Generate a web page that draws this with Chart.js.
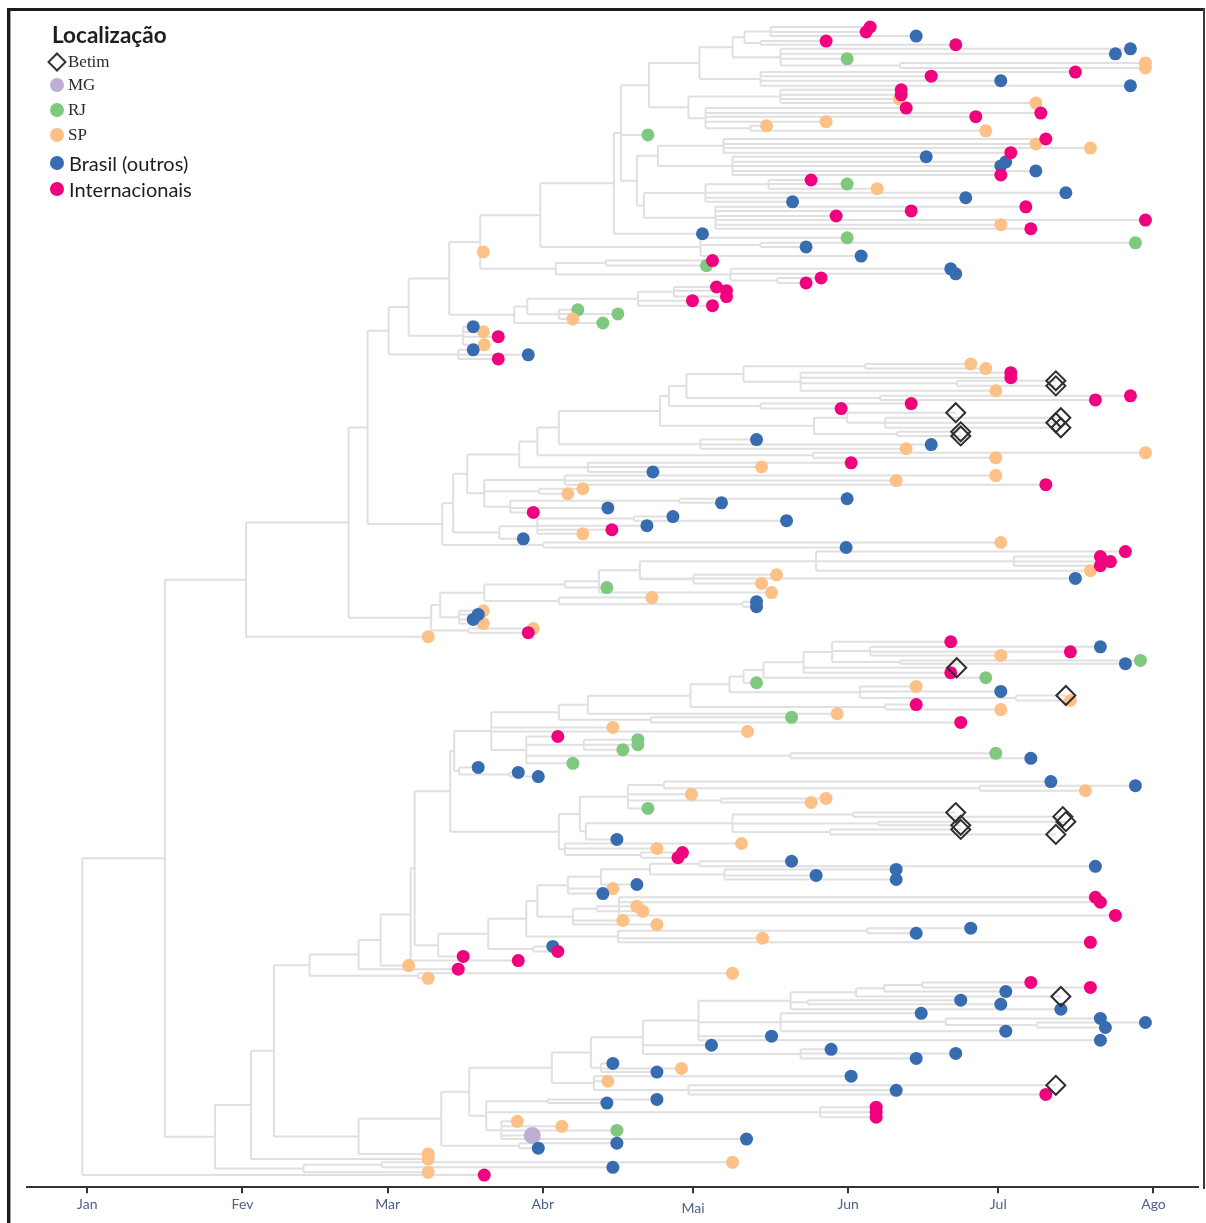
<!DOCTYPE html>
<html><head><meta charset="utf-8">
<script src="https://cdn.jsdelivr.net/npm/chart.js@4/dist/chart.umd.min.js"></script>
<style>
html,body{margin:0;padding:0;background:#fff;}
#wrap{position:relative;width:1206px;height:1223px;overflow:hidden;}
canvas{position:absolute;left:0;top:0;}
.lg{position:absolute;white-space:nowrap;color:#1e1e1e;}
.ttl{font-family:Lato,"Open Sans",sans-serif;font-weight:700;font-size:22.5px;line-height:24px;}
.srf{font-family:"Liberation Serif","DejaVu Serif",serif;font-size:17px;line-height:20px;color:#2a2a2a;}
.sns{font-family:Lato,"Open Sans",sans-serif;font-size:20px;line-height:22px;}
.mk{position:absolute;width:14px;height:14px;border-radius:50%;}
.dia{position:absolute;width:10px;height:10px;border:2px solid #333;transform:rotate(45deg);background:transparent;}
</style></head><body>
<div id="wrap">
<canvas id="c" width="1206" height="1223"></canvas>
<div id="legend"></div>
</div>
<script>
// ---------------- DATA ----------------
// x = day of year 2020 (0 = 1 Jan), y = leaf row (0 = top leaf)
const monthDay   = [0, 31, 60, 91, 121, 152, 182, 213];
const monthLabel = ['Jan', 'Fev', 'Mar', 'Abr', 'Mai', 'Jun', 'Jul', 'Ago'];
const locCodes   = ['Betim', 'MG', 'RJ', 'SP', 'BR', 'INT'];
const locNames   = ['Betim', 'MG', 'RJ', 'SP', 'Brasil (outros)', 'Internacionais'];

// internal nodes: [name, parent, day]
const backboneNodes = [
  ['R', null, -1.0], ['A','R',15.5], ['B','A',31.7], ['C','A',25.5], ['D','B',52.2],
  ['E','D',56.0], ['F','D',68.7], ['G','E',60.2], ['H2','E',70.9],
  ['C1','C',32.7], ['C2','C',43.2], ['C2a','C2',58.8], ['N272','C1',37.3],
  ['N308','N272',44.4], ['N357b','N272',54.2], ['N357a','N308',54.2], ['N417','N308',66.1],
  ['N379','N357a',58.6], ['N409','N379',64.6], ['N413','N409',65.4], ['N437','N413',70.1],
  ['N440','N357b',70.7]
];
const topNodes = [
  ['G1','G',64.2], ['G2','G',74.1], ['T1','G1',72.3], ['K','G1',75.1], ['H','T1',78.5], ['W','T1',85.3],
  ['U','H',90.5], ['V','H',93.6], ['Ua','U',105.2], ['Ue','U',122.5], ['Ub','Ua',106.6],
  ['Uc','Ub',112.2], ['Ud','Ub',109.8], ['Uc1','Uc',122.3], ['Uc9','Uc',120.1],
  ['Uc2','Uc1',128.9], ['Uc8','Uc1',134.5], ['Uc3','Uc2',131.3], ['Uc6','Uc2',138.5],
  ['Uc4','Uc3',136.5], ['Uc5','Uc3',134.5], ['Uc7','Uc6',162.4], ['Uc10','Uc9',138.5],
  ['Uc11','Uc9',123.5], ['Uc12','Uc11',132.5], ['Ud1','Ud',114.0], ['Ud2','Ud1',127.1],
  ['Ud3','Ud1',128.9], ['Ud4','Ud',111.2], ['Ud5','Ud4',123.5], ['Ud6','Ud5',136.1],
  ['Ud7','Ud4',125.5], ['Ue1','Ue',134.5], ['V1','V',103.6], ['V2','V',128.5],
  ['V2a','V2',137.9], ['W1','W',87.9], ['W2','W1',110.0], ['W2a','W2',117.2], ['W3','W1',94.2]
];
const midNodes = [
  ['M','H2',73.1], ['N','H2',91.1], ['M1','M',75.9], ['M2','M',82.3], ['M3','M1',86.3],
  ['M4','M1',79.3], ['Bt','M3',89.9], ['M5','M3',100.0], ['Bt1','Bt',94.2], ['Bt9','Bt',145.0],
  ['Bt2','Bt1',114.4], ['Bt10','Bt1',122.5], ['Bt3','Bt2',116.2], ['Bt8','Bt2',145.2],
  ['Bt4','Bt3',119.7], ['Bt7','Bt3',134.5], ['Bt5','Bt4',131.1], ['Bt6','Bt4',158.4],
  ['Bt5a','Bt5',155.4], ['Bt5b','Bt5',142.5], ['Bt5c','Bt5b',173.7], ['Bt8a','Bt8',151.8],
  ['Bt8b','Bt8a',159.4], ['Bt8c','Bt8',161.8], ['M7','M4',95.4], ['M6','M4',90.3],
  ['M8','M4',84.5], ['M8a','M8',118.3], ['M9','M2',89.9], ['M10','M9',109.2],
  ['F1','F',70.5], ['F2','F',76.1], ['F3','F1',79.3], ['F4','F1',74.3], ['F5','F3',95.4],
  ['F6','F3',94.2], ['F6a','F6',130.9], ['F7','F5',102.2], ['F8','F7',110.4],
  ['F9','F8',145.6], ['F9a','F9',185.1], ['F10','F8',121.1]
];
const lowerNodes = [
  ['L','N413',72.5], ['L1','L',73.3], ['L2','L',94.2], ['L3','L1',80.7], ['L4','L1',74.3],
  ['L4a','L4',84.3], ['L5','L3',94.2], ['L17','L3',87.7], ['L6','L5',100.0], ['L16','L5',112.6],
  ['L7','L6',120.5], ['L8','L7',128.3], ['L15','L7',159.4], ['L9','L8',131.1], ['L13','L8',154.4],
  ['L14','L13',185.5], ['L10','L9',135.1], ['L11','L10',143.1], ['L12','L11',148.8],
  ['L12a','L12',156.4], ['L12b','L12',162.4], ['L18a','L17',99.2], ['L19','L17',140.5],
  ['L20','L2',98.4], ['L29','L2',95.4], ['L29a','L29',110.6], ['L21','L20',108.0],
  ['L24','L20',99.6], ['L22','L21',115.2], ['L22a','L22',178.3], ['L23','L21',126.5],
  ['L25','L24',128.9], ['L26','L25',153.0], ['L27','L25',158.0], ['L28','L25',148.4],
  ['Q','N437',80.1], ['Q1','Q',87.7], ['Q2','Q',89.1], ['Q3','Q1',89.9], ['Q4','Q1',106.0],
  ['Q5','Q3',96.0], ['Q6','Q3',97.0], ['Q7','Q5',102.6], ['Q8','Q7',112.4], ['Q9','Q8',122.3],
  ['Q10','Q8',127.3], ['Q11','Q6',101.8], ['Q12','Q11',106.2], ['N867','Q4',155.8]
];
const bottomNodes = [
  ['P1','N440',76.3], ['P22','N440',86.3], ['P3','P1',92.8], ['P4','P1',79.7], ['P5','P3',100.6],
  ['P6','P3',101.2], ['P7','P5',111.0], ['P8','P5',102.6], ['P9','P7',122.1], ['P10','P7',142.5],
  ['P11','P9',140.5], ['P16','P9',138.5], ['P12','P11',153.6], ['P13','P12',159.2],
  ['P13a','P13',166.8], ['P14','P11',143.9], ['P17','P16',171.5], ['P17a','P17',189.7],
  ['P18','P6',120.1], ['P19','P4',92.0], ['P20','P4',146.4], ['P21','P4',82.7]
];

// tips: [parent, day, row, location]
const topTips = [
  ['Uc4',156.4,0.0,'INT'], ['Uc4',155.6,1.1,'INT'], ['Uc4',165.6,2.0,'BR'],
  ['Uc5',147.6,3.1,'INT'], ['Uc5',173.5,3.9,'INT'],
  ['Uc6',208.4,4.8,'BR'], ['Uc6',205.4,5.9,'BR'], ['Uc6',151.8,7.0,'RJ'],
  ['Uc7',211.4,7.9,'SP'], ['Uc7',211.4,9.0,'SP'],
  ['Uc8',197.4,9.9,'INT'], ['Uc8',168.6,10.8,'INT'], ['Uc8',182.5,11.8,'BR'], ['Uc8',208.4,12.9,'BR'],
  ['Uc10',162.6,13.8,'INT'], ['Uc10',162.6,14.9,'INT'], ['Uc10',162.2,15.8,'SP'], ['Uc10',189.5,16.7,'SP'],
  ['Uc11',163.6,17.8,'INT'], ['Uc11',190.5,18.9,'INT'], ['Uc11',177.5,19.7,'INT'], ['Uc11',147.6,20.8,'SP'],
  ['Uc12',135.7,21.7,'SP'], ['Uc12',179.5,22.8,'SP'], ['Ub',112.0,23.7,'RJ'],
  ['Ud2',191.5,24.6,'INT'], ['Ud2',189.5,25.7,'SP'], ['Ud2',200.4,26.6,'SP'], ['Ud2',184.5,27.6,'INT'],
  ['Ud3',167.6,28.5,'BR'], ['Ud3',183.5,29.6,'BR'], ['Ud3',182.5,30.5,'BR'], ['Ud3',189.5,31.6,'BR'], ['Ud3',182.5,32.5,'INT'],
  ['Ud6',144.6,33.6,'INT'], ['Ud6',151.8,34.5,'RJ'], ['Ud6',157.8,35.5,'SP'],
  ['Ud5',195.5,36.4,'BR'], ['Ud5',175.5,37.5,'BR'], ['Ud5',140.9,38.4,'BR'],
  ['Ud7',187.5,39.5,'INT'], ['Ud7',164.6,40.4,'INT'], ['Ud7',149.6,41.5,'INT'], ['Ud7',211.4,42.4,'INT'],
  ['Ud7',182.5,43.4,'SP'], ['Ud7',188.5,44.3,'INT'],
  ['Ua',122.9,45.4,'BR'], ['Ue',151.8,46.3,'RJ'], ['Ue1',209.4,47.4,'RJ'], ['Ue1',143.6,48.3,'BR'],
  ['H',79.1,49.4,'SP'], ['Ue',154.6,50.3,'BR'],
  ['V1',124.9,51.3,'INT'], ['V1',123.7,52.4,'RJ'], ['V2',172.5,53.1,'BR'], ['V2',173.5,54.2,'BR'],
  ['V2a',146.6,55.1,'INT'], ['V2a',143.6,56.2,'INT'],
  ['W2a',125.7,57.1,'INT'], ['W2a',127.7,57.9,'INT'], ['W2a',127.7,59.2,'INT'],
  ['W2',120.9,60.1,'INT'], ['W2',124.9,61.2,'INT'],
  ['W3',98.0,62.1,'RJ'], ['W3',106.0,63.0,'RJ'], ['W3',97.0,64.1,'SP'], ['W',103.0,65.0,'RJ'],
  ['K',77.1,65.8,'BR'], ['K',79.1,66.9,'SP'], ['K',82.1,68.0,'INT'], ['K',79.3,69.8,'SP'],
  ['G2',77.1,70.9,'BR'], ['G2',88.1,72.0,'BR'], ['G2',82.1,72.9,'INT']
];
const midTips = [
  ['Bt5a',176.5,74.0,'SP'], ['Bt5a',179.5,75.0,'SP'], ['Bt5b',184.5,75.9,'INT'], ['Bt5b',184.5,77.0,'INT'],
  ['Bt5c',193.5,77.7,'Betim'], ['Bt5c',193.5,78.8,'Betim'], ['Bt5b',181.5,79.9,'SP'],
  ['Bt6',208.4,81.0,'INT'], ['Bt6',201.4,81.9,'INT'], ['Bt7',164.6,82.7,'INT'], ['Bt7',150.6,83.8,'INT'],
  ['Bt8a',173.5,84.7,'Betim'], ['Bt8b',194.5,85.8,'Betim'], ['Bt8b',193.5,86.9,'Betim'], ['Bt8b',194.5,88.0,'Betim'],
  ['Bt8c',174.5,88.9,'Betim'], ['Bt8c',174.5,89.8,'Betim'],
  ['Bt10',133.7,90.6,'BR'], ['Bt10',168.6,91.7,'BR'], ['Bt10',163.6,92.6,'SP'],
  ['Bt9',211.4,93.5,'SP'], ['Bt9',181.5,94.6,'SP'],
  ['M5',152.6,95.7,'INT'], ['M5',134.7,96.6,'SP'], ['M5',113.0,97.7,'BR'],
  ['M7',181.5,98.5,'SP'], ['M7',161.6,99.6,'SP'], ['M7',191.5,100.5,'INT'],
  ['M6',99.0,101.4,'SP'], ['M6',96.0,102.5,'SP'],
  ['M8a',151.8,103.6,'BR'], ['M8a',126.7,104.5,'BR'], ['M8',104.0,105.6,'BR'], ['M8',89.1,106.6,'INT'],
  ['M10',117.0,107.5,'BR'], ['M10',139.7,108.4,'BR'], ['M9',111.8,109.5,'BR'], ['M9',104.8,110.4,'INT'],
  ['M9',99.0,111.3,'SP'], ['M2',87.1,112.4,'BR'], ['N',182.5,113.2,'SP'], ['N',151.6,114.3,'BR'],
  ['F9',207.4,115.2,'INT'], ['F9a',202.4,116.3,'INT'], ['F9a',204.4,117.4,'INT'], ['F9a',202.4,118.3,'INT'],
  ['F9',200.4,119.4,'SP'], ['F10',137.7,120.3,'SP'], ['F8',197.4,121.1,'BR'], ['F10',134.7,122.2,'SP'],
  ['F5',103.8,123.1,'RJ'], ['F7',136.7,124.2,'SP'], ['F6',112.8,125.3,'SP'],
  ['F6a',133.7,126.2,'BR'], ['F6a',133.7,127.3,'BR'],
  ['F4',79.1,128.2,'SP'], ['F4',78.1,129.0,'BR'], ['F4',77.1,130.1,'BR'], ['F4',79.1,131.0,'SP'],
  ['F2',89.1,132.1,'SP'], ['F2',88.1,133.0,'INT'], ['B',68.1,133.9,'SP']
];
const lowerTips = [
  ['L12',172.5,135.0,'INT'], ['L12a',202.4,136.1,'BR'], ['L12a',196.4,137.2,'INT'], ['L12a',182.5,138.0,'SP'],
  ['L12b',210.4,139.1,'RJ'], ['L12b',207.4,139.8,'BR'], ['L11',173.7,140.7,'Betim'], ['L11',172.5,141.8,'INT'],
  ['L10',179.5,142.9,'RJ'], ['L9',133.7,144.0,'RJ'], ['L13',165.6,144.8,'SP'], ['L13',182.5,145.9,'BR'],
  ['L14',195.5,146.8,'Betim'], ['L14',196.4,147.9,'SP'], ['L15',165.6,148.8,'INT'], ['L15',182.5,149.9,'SP'],
  ['L6',149.8,150.8,'SP'], ['L16',140.7,151.6,'RJ'], ['L16',174.5,152.7,'INT'],
  ['L3',105.0,153.8,'SP'], ['L3',131.9,154.7,'SP'], ['L17',94.0,155.8,'INT'],
  ['L18a',110.0,156.5,'RJ'], ['L18a',110.0,157.6,'RJ'], ['L18a',107.0,158.7,'RJ'],
  ['L19',181.5,159.5,'RJ'], ['L19',188.5,160.6,'BR'], ['L17',97.0,161.7,'RJ'],
  ['L4',78.1,162.6,'BR'], ['L4a',86.1,163.7,'BR'], ['L4a',90.1,164.6,'BR'],
  ['L22',192.5,165.7,'BR'], ['L22a',209.4,166.6,'BR'], ['L22a',199.4,167.7,'SP'], ['L21',120.7,168.5,'SP'],
  ['L23',147.6,169.4,'SP'], ['L23',144.6,170.3,'SP'], ['L21',112.0,171.6,'RJ'],
  ['L26',173.5,172.5,'Betim'], ['L26',194.9,173.4,'Betim'], ['L27',195.5,174.5,'Betim'], ['L27',174.5,175.3,'Betim'],
  ['L28',174.5,176.2,'Betim'], ['L28',193.5,177.3,'Betim'], ['L24',105.8,178.4,'BR'],
  ['L29',130.7,179.3,'SP'], ['L29',113.8,180.4,'SP'], ['L29a',118.9,181.3,'INT'], ['L29a',118.0,182.4,'INT'],
  ['Q9',140.7,183.2,'BR'], ['Q9',201.4,184.3,'BR'], ['Q10',161.6,185.0,'BR'], ['Q10',145.6,186.3,'BR'],
  ['Q10',161.6,187.2,'BR'], ['Q7',109.8,188.3,'BR'], ['Q5',105.0,189.2,'SP'], ['Q5',103.0,190.3,'BR'],
  ['Q12',201.4,191.1,'INT'], ['Q12',202.4,192.2,'INT'], ['Q11',109.8,193.1,'SP'], ['Q11',111.0,194.2,'SP'],
  ['Q12',205.4,195.1,'INT'], ['Q6',107.0,196.2,'SP'], ['Q6',113.8,197.1,'SP'],
  ['N867',176.5,197.9,'BR'], ['N867',165.6,199.0,'BR'], ['Q4',134.9,200.1,'SP'], ['Q4',200.4,201.0,'INT'],
  ['Q2',93.0,201.9,'BR'], ['Q2',94.0,203.0,'INT'], ['N437',75.1,204.1,'INT'], ['N409',86.1,205.0,'INT'],
  ['N379',64.2,206.1,'SP'], ['N357a',74.1,206.9,'INT'], ['N417',128.9,207.8,'SP'], ['N417',68.1,208.9,'SP']
];
const bottomTips = [
  ['P13a',188.5,209.8,'INT'], ['P13a',200.4,210.9,'INT'], ['P13',183.5,211.8,'BR'], ['P12',194.5,212.9,'Betim'],
  ['P14',174.5,213.7,'BR'], ['P14',182.5,214.6,'BR'], ['P11',194.5,215.7,'BR'], ['P16',166.6,216.6,'BR'],
  ['P17',202.4,217.7,'BR'], ['P17a',211.4,218.6,'BR'], ['P17a',203.4,219.7,'BR'], ['P16',183.5,220.5,'BR'],
  ['P9',136.7,221.6,'BR'], ['P9',202.4,222.5,'BR'], ['P7',124.7,223.6,'BR'],
  ['P10',148.6,224.5,'BR'], ['P10',173.5,225.4,'BR'], ['P10',165.6,226.5,'BR'],
  ['P8',105.0,227.6,'BR'], ['P8',118.7,228.7,'SP'], ['P8',113.8,229.5,'BR'],
  ['P6',152.6,230.4,'BR'], ['P6',104.0,231.5,'SP'], ['P18',193.5,232.4,'Betim'], ['P18',161.6,233.5,'BR'],
  ['P18',191.5,234.4,'INT'], ['P19',113.8,235.5,'BR'], ['P19',103.8,236.3,'BR'],
  ['P20',157.6,237.2,'INT'], ['P20',157.6,238.3,'INT'], ['P20',157.6,239.4,'INT'],
  ['P21',85.9,240.3,'SP'], ['P21',94.8,241.4,'SP'], ['P21',105.8,242.3,'RJ'], ['P21',88.9,243.4,'MG'],
  ['P21',131.7,244.2,'BR'], ['P22',105.8,245.1,'BR'], ['P22',90.1,246.2,'BR'],
  ['N357b',68.1,247.5,'SP'], ['C1',68.1,248.6,'SP'], ['C2a',128.9,249.3,'SP'], ['C2a',105.0,250.4,'BR'],
  ['C2',68.1,251.5,'SP'], ['R',79.3,252.1,'INT']
];

// ---------------- STYLE ----------------
const locColor = { Betim: '#2e2e2e', MG: '#beaed4', RJ: '#7fc97f', SP: '#fdc086', BR: '#386cb0', INT: '#f0027f' };
const X_MIN = -12.05, X_MAX = 221.9;
const Y_MIN = -3.29, Y_MAX = 254.77;

// ---------------- BUILD TREE ----------------
const nodes = [...backboneNodes, ...topNodes, ...midNodes, ...lowerNodes, ...bottomNodes];
const tips = [...topTips, ...midTips, ...lowerTips, ...bottomTips];
const nDay = {}, kids = {};
nodes.forEach(([n, p, d]) => { nDay[n] = d; kids[n] = kids[n] || []; });
nodes.forEach(([n, p]) => { if (p) kids[p].push({ node: n }); });
tips.forEach(([p, d, r]) => { kids[p].push({ day: d, row: r }); });
const nRow = {};
function rowOf(n) {
  if (nRow[n] !== undefined) return nRow[n];
  const ys = kids[n].map(c => c.node ? rowOf(c.node) : c.row);
  nRow[n] = (Math.min(...ys) + Math.max(...ys)) / 2;
  return nRow[n];
}
const segs = [];
nodes.forEach(([n]) => {
  const x0 = nDay[n];
  const ys = kids[n].map(c => c.node ? rowOf(c.node) : c.row);
  segs.push({ x: x0, y: Math.min(...ys) }, { x: x0, y: Math.max(...ys) }, { x: x0, y: null });
  kids[n].forEach(c => {
    const cy = c.node ? rowOf(c.node) : c.row;
    const cx = c.node ? nDay[c.node] : c.day;
    segs.push({ x: x0, y: cy }, { x: cx, y: cy }, { x: cx, y: null });
  });
});

const pointSets = locCodes.map((code, i) => {
  const isBetim = code === 'Betim';
  return {
    label: locNames[i],
    data: tips.filter(t => t[3] === code).map(t => ({ x: t[1], y: t[2] })),
    showLine: false,
    pointStyle: isBetim ? 'rectRot' : 'circle',
    pointRadius: isBetim ? 9.5 : (code === 'MG' ? 8.5 : 6.5),
    pointBackgroundColor: isBetim ? 'rgba(255,255,255,0)' : locColor[code],
    pointBorderColor: isBetim ? '#2e2e2e' : locColor[code],
    pointBorderWidth: isBetim ? 2 : 0,
    backgroundColor: locColor[code],
    borderColor: locColor[code],
    order: isBetim ? 0 : 6 - i
  };
});

const framePlugin = {
  id: 'frame',
  afterDraw(chart) {
    const c = chart.ctx;
    c.save();
    c.fillStyle = '#1c1c1c';
    c.fillRect(7, 8, 1198, 3);
    c.fillRect(7, 8, 3, 1215);
    c.fillStyle = '#a0a0a0';
    c.fillRect(10, 11, 1, 1212);
    c.fillStyle = '#3a3a3a';
    c.fillRect(1203, 8, 2, 1181);
    c.restore();
  }
};

const tickFont = { family: 'Lato', size: 14 };
new Chart(document.getElementById('c'), {
  type: 'line',
  data: {
    datasets: [
      ...pointSets,
      { label: 'tree', data: segs, borderColor: '#e0e0e0', borderWidth: 2, pointRadius: 0,
        spanGaps: false, tension: 0, fill: false, order: 20 }
    ]
  },
  options: {
    responsive: false, animation: false, events: [],
    layout: { autoPadding: false, padding: { left: 27, right: 8, top: 12, bottom: 0 } },
    plugins: { legend: { display: false }, tooltip: { enabled: false } },
    scales: {
      x: {
        type: 'linear', min: X_MIN, max: X_MAX,
        afterBuildTicks: s => { s.ticks = monthDay.map(v => ({ value: v })); },
        ticks: { callback: (v, i) => monthLabel[i], autoSkip: false, maxRotation: 0, padding: 3,
                 color: '#4e6088',
                 font: ctx => (monthLabel[ctx.index] === 'Mai' ? { ...tickFont, lineHeight: 1.7 } : tickFont) },
        grid: { display: true, drawOnChartArea: false, drawTicks: true, tickLength: 6, color: '#333', lineWidth: 2 },
        border: { display: true, color: '#333', width: 2 }
      },
      y: { type: 'linear', reverse: true, min: Y_MIN, max: Y_MAX, display: false }
    }
  },
  plugins: [framePlugin]
});

// ---------------- LEGEND (HTML text) ----------------
const lg = document.getElementById('legend');
const legendY = [62, 85, 110, 135, 163, 189];
let html = '<div class="lg ttl" style="left:52px;top:23px">Localização</div>';
locCodes.forEach((code, i) => {
  const cy = legendY[i];
  if (code === 'Betim') html += `<div class="dia" style="left:50px;top:${cy - 7}px"></div>`;
  else html += `<div class="mk" style="left:50px;top:${cy - 7}px;background:${locColor[code]}"></div>`;
  const cls = i < 4 ? 'srf' : 'sns';
  const lh = i < 4 ? 10 : 11;
  html += `<div class="lg ${cls}" style="left:${i < 4 ? 68 : 69}px;top:${cy - lh}px">${locNames[i]}</div>`;
});
lg.innerHTML = html;
</script>
</body></html>
